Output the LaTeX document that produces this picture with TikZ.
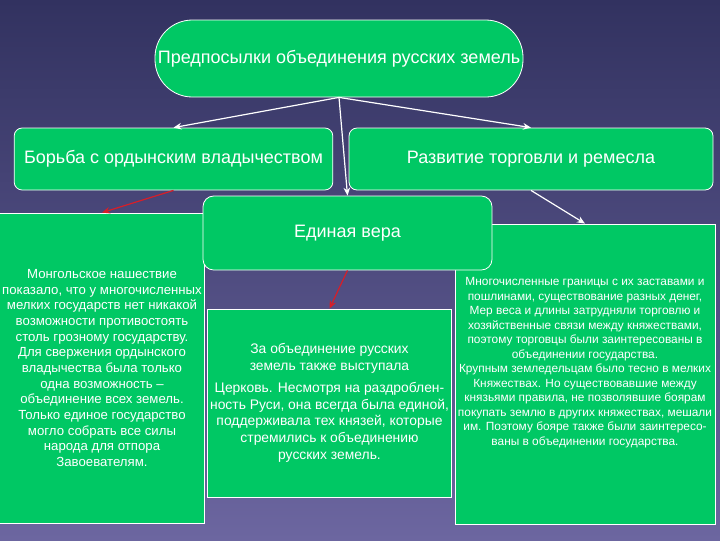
\documentclass[tikz,border=0pt]{standalone}
\usepackage{fontspec}
\setmainfont{Liberation Sans}
\usetikzlibrary{arrows.meta}
\definecolor{fonverh}{RGB}{50,50,96}
\definecolor{fonniz}{RGB}{108,102,160}
\definecolor{zelenyj}{RGB}{0,200,100}
\definecolor{krasnyj}{RGB}{215,30,40}

\tikzset{
  blok/.style={draw=white, fill=zelenyj, text=white, line width=0.6pt, align=center, inner sep=2pt},
  zagolovok/.style={blok, font=\fontsize{13.5}{16}\selectfont},
  strelka/.style={-{Stealth[length=6pt,width=5pt]}, line width=0.9pt},
}

\begin{document}
\begin{tikzpicture}[x=0.75pt, y=-0.75pt]
                % fon
                \shade[top color=fonverh, bottom color=fonniz] (0,0) rectangle (720,540);
                \useasboundingbox (0,0) rectangle (720,540);
                % bolshie bloki s tekstom
                \node[blok, minimum width=153pt, minimum height=232.5pt,
                    font=\fontsize{9.9}{11.75}\selectfont] (mongoly) at (102,368)
                    {Монгольское нашествие\\ показало, что у многочисленных\\
                     мелких государств нет никакой\\ возможности противостоять\\
                     столь грозному государству.\\ Для свержения ордынского\\
                     владычества была только\\ одна возможность –\\
                     объединение всех земель.\\ Только единое государство\\
                     могло собрать все силы\\ народа для отпора\\ Завоевателям.};
                \node[blok, minimum width=182pt, minimum height=141pt,
                    font=\fontsize{10.4}{12.5}\selectfont] (cerkov) at (329.5,403)
                    {За объединение русских\\ земель также выступала\\[4pt]
                     Церковь. Несмотря на раздроблен-\\ ность Руси, она всегда была единой,\\
                     поддерживала тех князей, которые\\ стремились к объединению\\ русских земель.};
                \node[blok, minimum width=195pt, minimum height=225pt,
                    font=\fontsize{8.9}{10.9}\selectfont] (granicy) at (585,374)
                    {Многочисленные границы с их заставами и\\ пошлинами, существование разных денег,\\
                     Мер веса и длины затрудняли торговлю и\\ хозяйственные связи между княжествами,\\
                     поэтому торговцы были заинтересованы в\\ объединении государства.\\
                     Крупным земледельцам было тесно в мелких\\ Княжествах. Но существовавшие между\\
                     князьями правила, не позволявшие боярам\\ покупать землю в других княжествах, мешали\\
                     им. Поэтому бояре также были заинтересо-\\ ваны в объединении государства.\\[8pt]};
                % zagolovki
                \node[zagolovok, rounded corners=8pt, minimum width=216.75pt, minimum height=55.5pt] (vera) at (347.5,233) {Единая вера};
                \node[zagolovok, rounded corners=6pt, minimum width=239pt, minimum height=46.5pt] (borba) at (173.5,159) {Борьба с ордынским владычеством};
                \node[zagolovok, rounded corners=6pt, minimum width=273pt, minimum height=46.5pt] (razvitie) at (531,159) {Развитие торговли и ремесла};
                \node[zagolovok, rounded corners=28pt, minimum width=276pt, minimum height=57.75pt] (predposylki) at (339,58.5) {Предпосылки объединения русских земель};
                % strelki
                \draw[strelka, white] (predposylki.south) -- (borba.north);
                \draw[strelka, white] (predposylki.south) -- (vera.north);
                \draw[strelka, white] (predposylki.south) -- (razvitie.north);
                \draw[strelka, krasnyj] (borba.south) -- (mongoly.north);
                \draw[strelka, krasnyj] (vera.south) -- (cerkov.north);
                \draw[strelka, white] (razvitie.south) -- (granicy.north);
            \end{tikzpicture}
\end{document}
